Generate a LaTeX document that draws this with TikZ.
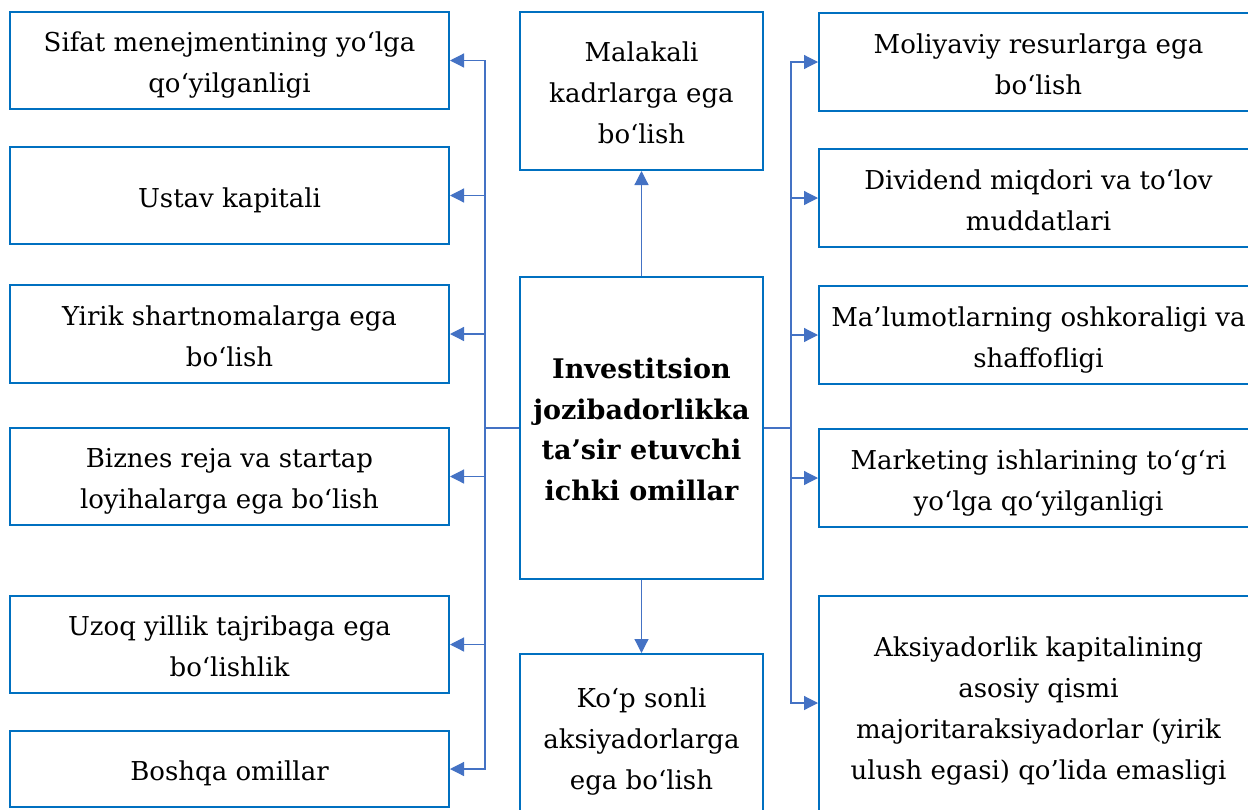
\documentclass[tikz,border=0pt]{standalone}
\usepackage{fontspec}
\setmainfont{DejaVu Serif}
\usetikzlibrary{arrows.meta}
\definecolor{boxblue}{HTML}{0070C0}
\definecolor{linkblue}{HTML}{4472C4}
\newcommand\boxtxt[1]{\raisebox{-3.5pt}[\height][\depth]{\begin{tabular}{@{}c@{}}#1\end{tabular}}}
\tikzset{
  box/.style={draw=boxblue, line width=2pt, fill=white, inner sep=0pt,
    minimum width=439pt, font=\fontsize{26}{41}\selectfont},
  mid/.style={box, minimum width=243pt},
  conn/.style={draw=linkblue, line width=1.2pt},
  arr/.style={conn, -{Triangle[length=14pt,width=14pt]}, color=linkblue},
}
\begin{document}
\begin{tikzpicture}[x=1pt,y=-1pt]
\path[use as bounding box, clip] (0,0) rectangle (1248,809);
\fill[white] (0,0) rectangle (1248,809);
% left column
\node[box, minimum height=97pt] (L1) at (229.5,60.5) {\boxtxt{Sifat menejmentining yo‘lga\\qo‘yilganligi}};
\node[box, minimum height=97pt] (L2) at (229.5,195.5) {\boxtxt{Ustav kapitali}};
\node[box, minimum height=98pt] (L3) at (229.5,334) {\boxtxt{Yirik shartnomalarga ega\\bo‘lish}};
\node[box, minimum height=97pt] (L4) at (229.5,476.5) {\boxtxt{Biznes reja va startap\\loyihalarga ega bo‘lish}};
\node[box, minimum height=97pt] (L5) at (229.5,644.5) {\boxtxt{Uzoq yillik tajribaga ega\\bo‘lishlik}};
\node[box, minimum height=76pt] (L6) at (229.5,769) {\boxtxt{Boshqa omillar}};
% middle column
\node[mid, minimum height=158pt] (T) at (641.5,91) {\boxtxt{Malakali\\kadrlarga ega\\bo‘lish}};
\node[mid, minimum height=302pt, font=\fontsize{27}{40.5}\selectfont\bfseries] (C) at (641.5,428) {\boxtxt{Investitsion\\jozibadorlikka\\ta’sir etuvchi\\ichki omillar}};
\node[mid, minimum height=166pt] (B) at (641.5,737) {\boxtxt{Ko‘p sonli\\aksiyadorlarga\\ega bo‘lish}};
% right column
\node[box, minimum height=98pt] (R1) at (1038.5,62) {\boxtxt{Moliyaviy resurlarga ega\\bo‘lish}};
\node[box, minimum height=98pt] (R2) at (1038.5,198) {\boxtxt{Dividend miqdori va to‘lov\\muddatlari}};
\node[box, minimum height=98pt] (R3) at (1038.5,335) {\boxtxt{Ma’lumotlarning oshkoraligi va\\shaffofligi}};
\node[box, minimum height=98pt] (R4) at (1038.5,478) {\boxtxt{Marketing ishlarining to‘g‘ri\\yo‘lga qo‘yilganligi}};
\node[box, minimum height=220pt] (R5) at (1038.5,706) {\boxtxt{Aksiyadorlik kapitalining\\asosiy qismi\\majoritaraksiyadorlar (yirik\\ulush egasi) qo’lida emasligi}};
% bus points
\coordinate (bl) at (485,428);
\coordinate (br) at (791,428);
\draw[conn] (C.west) -- (bl);
\draw[conn] (C.east) -- (br);
\draw[arr] (bl) |- (L1.east);
\draw[arr] (bl) |- (L2.east);
\draw[arr] (bl) |- (L3.east);
\draw[arr] (bl) |- (L4.east);
\draw[arr] (bl) |- (L5.east);
\draw[arr] (bl) |- (L6.east);
\draw[arr] (br) |- (R1.west);
\draw[arr] (br) |- (R2.west);
\draw[arr] (br) |- (R3.west);
\draw[arr] (br) |- (R4.west);
\draw[arr] (br) |- ([yshift=3pt]R5.west);
\draw[arr] (C.north) -- (T.south);
\draw[arr] (C.south) -- (B.north);
\end{tikzpicture}
\end{document}
